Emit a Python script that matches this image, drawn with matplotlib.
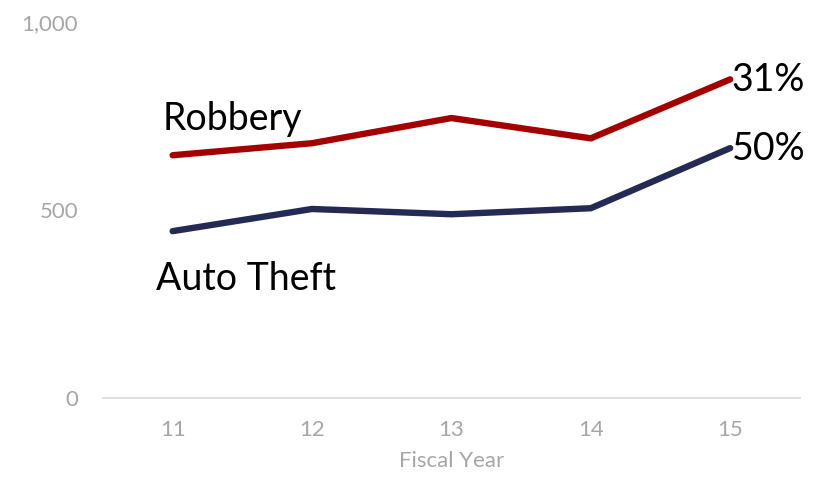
import matplotlib
matplotlib.use("Agg")
import matplotlib.pyplot as plt
from matplotlib.ticker import FuncFormatter

years = [11, 12, 13, 14, 15]
robbery = [646, 678, 745, 691, 848]
auto_theft = [444, 503, 489, 505, 665]
y_ticks = [0, 500, 1000]

RED = "#A50000"
NAVY = "#252A54"
GREY = "#A6A6A6"

plt.rcParams["font.family"] = ["Lato", "DejaVu Sans"]

fig = plt.figure(figsize=(8.17, 4.83), dpi=100)
ax = fig.add_axes([0.126, 0.176, 0.853, 0.778])

ax.plot(years, robbery, color=RED, lw=4.6, solid_capstyle="round", solid_joinstyle="miter")
ax.plot(years, auto_theft, color=NAVY, lw=4.6, solid_capstyle="round", solid_joinstyle="miter")

ax.set_xlim(10.5, 15.5)
ax.set_ylim(0, 1000)
ax.set_xticks(years)
ax.set_yticks(y_ticks)
ax.yaxis.set_major_formatter(FuncFormatter(lambda v, p: f"{int(v):,}"))
ax.tick_params(axis="both", length=0, labelsize=16, colors=GREY)
ax.tick_params(axis="y", pad=18)
ax.tick_params(axis="x", pad=16)
for s in ("top", "right", "left"):
    ax.spines[s].set_visible(False)
ax.spines["bottom"].set_color("#D9D9D9")
ax.spines["bottom"].set_linewidth(1.2)
ax.set_xlabel("Fiscal Year", fontsize=16, color=GREY, labelpad=8)

# series labels
ax.text(10.93, 713, "Robbery", fontsize=27, color="black", va="baseline", ha="left")
ax.text(10.88, 287, "Auto Theft", fontsize=27, color="black", va="baseline", ha="left")

# growth over the period
for vals in (robbery, auto_theft):
    pct = round((vals[-1] / vals[0] - 1) * 100)
    ax.annotate(f"{pct}%", xy=(years[-1], vals[-1]), xytext=(1, 2),
                textcoords="offset points", fontsize=27, color="black",
                ha="left", va="center_baseline")

fig.savefig("out.png", dpi=100)
